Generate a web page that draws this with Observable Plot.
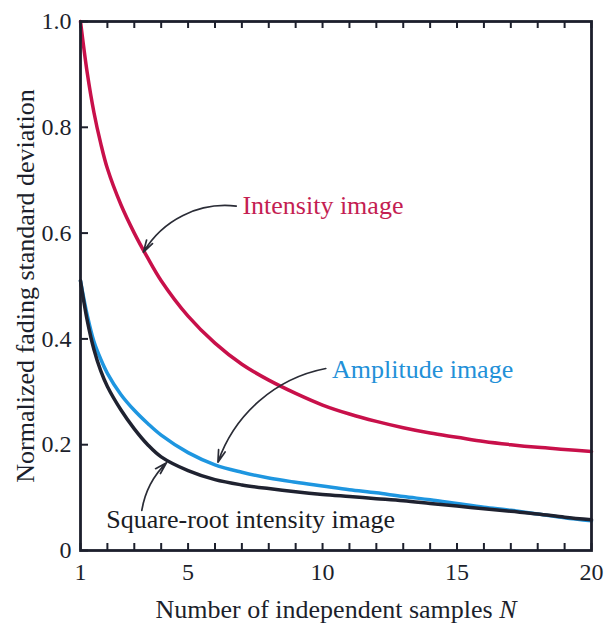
<!DOCTYPE html>
<html>
<head>
<meta charset="utf-8">
<script src="https://cdn.jsdelivr.net/npm/d3@7"></script>
<script src="https://cdn.jsdelivr.net/npm/@observablehq/plot@0.6"></script>
<style>
  body { margin: 0; background: #fff; }
  svg { display: block; }
</style>
</head>
<body>
<div id="chart"></div>
<script>
// Number of independent samples N
const samples = [1, 1.25, 1.5, 1.75, 2, 2.5, 3, 3.5, 4, 5, 6, 7, 8, 9, 10, 11, 12, 13, 14, 15, 16, 17, 18, 19, 20];

// Normalized fading standard deviation for each image type
const intensityStd = [1.0, 0.903, 0.828, 0.77, 0.722, 0.654, 0.60, 0.553, 0.51, 0.443, 0.392, 0.352, 0.322, 0.297, 0.275, 0.258, 0.244, 0.232, 0.222, 0.214, 0.206, 0.200, 0.195, 0.191, 0.187];
const amplitudeStd = [0.51, 0.445, 0.395, 0.362, 0.335, 0.295, 0.265, 0.24, 0.218, 0.185, 0.162, 0.148, 0.137, 0.129, 0.122, 0.115, 0.109, 0.102, 0.096, 0.089, 0.082, 0.076, 0.069, 0.062, 0.056];
const sqrtIntensityStd = [0.51, 0.435, 0.38, 0.34, 0.31, 0.266, 0.23, 0.2, 0.177, 0.151, 0.134, 0.124, 0.117, 0.111, 0.106, 0.102, 0.098, 0.094, 0.089, 0.084, 0.079, 0.074, 0.069, 0.063, 0.058];

const seriesNames = ["Intensity image", "Amplitude image", "Square-root intensity image"];
const seriesColors = ["#c8104a", "#1e96e0", "#1f2230"];
const labelColors = ["#c41e52", "#2290d8", "#1a1c24"];

// Axis ticks
const xTickLabels = [1, 5, 10, 15, 20];
const xTickMarks = d3.range(1, 21);
const yTickLabels = [0, 0.2, 0.4, 0.6, 0.8, 1.0];

// Curve annotations: label anchor (N, value), arrow tail and arrow head
const labelN = [7.02, 10.35, 1.96];
const labelValue = [0.636, 0.327, 0.042];
const arrowFromN = [6.79, 10.12, 3.28];
const arrowFromValue = [0.651, 0.344, 0.076];
const arrowToN = [3.34, 6.11, 4.2];
const arrowToValue = [0.564, 0.167, 0.166];
const arrowBend = [-33, -30, 18];

const rows = [
  ...samples.map((n, i) => ({N: n, value: intensityStd[i], series: seriesNames[0]})),
  ...samples.map((n, i) => ({N: n, value: amplitudeStd[i], series: seriesNames[1]})),
  ...samples.map((n, i) => ({N: n, value: sqrtIntensityStd[i], series: seriesNames[2]}))
];

const notes = seriesNames.map((name, i) => ({
  text: name, color: labelColors[i],
  x: labelN[i], y: labelValue[i],
  x1: arrowFromN[i], y1: arrowFromValue[i], x2: arrowToN[i], y2: arrowToValue[i]
}));

const W = 604, H = 625, mL = 80, mR = 13, mT = 21, mB = 75;
const frameW = W - mL - mR, frameH = H - mT - mB;
const ink = "#1c1f2c";
const serif = "'Liberation Serif', 'Times New Roman', serif";

const chart = Plot.plot({
  width: W,
  height: H,
  marginLeft: mL,
  marginRight: mR,
  marginTop: mT,
  marginBottom: mB,
  style: {fontFamily: serif, background: "#fff", color: ink, overflow: "visible"},
  x: {domain: [1, 20]},
  y: {domain: [0, 1]},
  color: {domain: seriesNames, range: seriesColors},
  marks: [
    Plot.axisX({ticks: xTickLabels, tickSize: 0, tickPadding: 12, fontSize: 24, label: null, tickFormat: d => String(d)}),
    Plot.axisY({ticks: yTickLabels, tickSize: 0, tickPadding: 9, fontSize: 24, label: null, tickFormat: d => d === 0 ? "0" : d.toFixed(1)}),
    // inward tick marks on the bottom, top and left edges
    Plot.tickX(xTickMarks, {x: d => d, insetTop: frameH - 7, stroke: ink, strokeWidth: 2}),
    Plot.tickX(xTickMarks, {x: d => d, insetBottom: frameH - 7, stroke: ink, strokeWidth: 2}),
    Plot.tickY(yTickLabels, {y: d => d, insetRight: frameW - 8, stroke: ink, strokeWidth: 2}),
    Plot.line(rows, {x: "N", y: "value", z: "series", stroke: "series", strokeWidth: 3.5, curve: "catmull-rom"}),
    Plot.frame({stroke: ink, strokeWidth: 2.8}),
    ...notes.map((d, i) => Plot.arrow([d], {
      x1: "x1", y1: "y1", x2: "x2", y2: "y2",
      bend: arrowBend[i], stroke: "#2a2c36", strokeWidth: 1.7,
      headLength: 11, headAngle: 32
    })),
    Plot.text(notes, {x: "x", y: "y", text: "text", fill: "color", textAnchor: "start", lineAnchor: "bottom", fontSize: 26}),
    Plot.text(["Normalized fading standard deviation"], {frameAnchor: "left", textAnchor: "middle", rotate: -90, dx: -55, fontSize: 26, fill: ink}),
    Plot.text(["Number of independent samples N"], {frameAnchor: "bottom", textAnchor: "middle", dy: 67, lineAnchor: "bottom", fontSize: 26, fill: ink, className: "x-title"})
  ]
});

// italic N in the x-axis title
const title = chart.querySelector(".x-title text");
if (title) {
  title.textContent = "Number of independent samples ";
  const ns = "http://www.w3.org/2000/svg";
  const t = document.createElementNS(ns, "tspan");
  t.setAttribute("font-style", "italic");
  t.textContent = "N";
  title.appendChild(t);
}

document.getElementById("chart").appendChild(chart);
</script>
</body>
</html>
